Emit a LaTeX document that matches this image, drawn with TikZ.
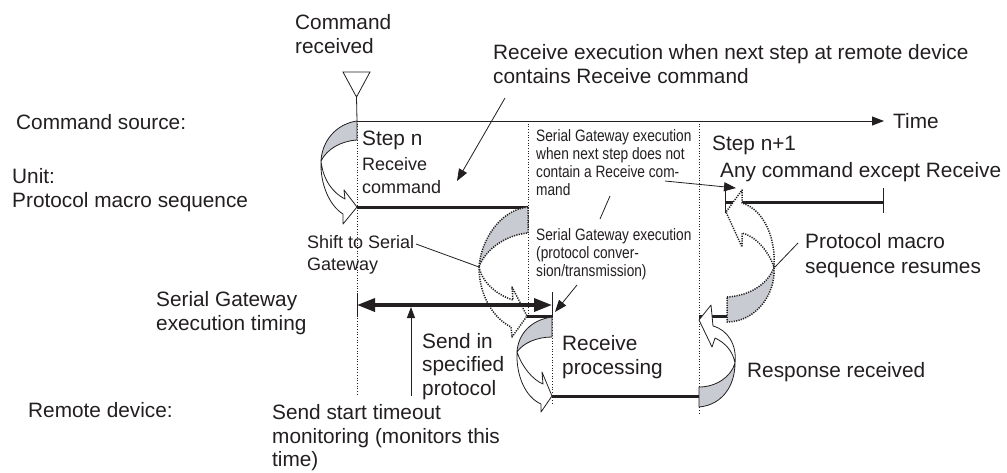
\documentclass[tikz,border=0pt]{standalone}
\usepackage{fontspec}
\setmainfont{Liberation Sans}
\newfontfamily\narrowfont{Liberation Sans}[FakeStretch=0.83]
\usetikzlibrary{arrows.meta}
\definecolor{ink}{RGB}{35,31,32}
\definecolor{band}{RGB}{200,203,210}
\tikzset{
  lbl/.style={anchor=base west, inner sep=0pt, text=ink, font=\fontsize{20.8}{24}\selectfont},
  medtext/.style={lbl, font=\fontsize{18}{22}\selectfont},
  smalltext/.style={lbl, font=\narrowfont\fontsize{16.5}{18}\selectfont},
  thickbar/.style={line width=3pt, draw=ink},
  hair/.style={line width=0.8pt, draw=ink},
  guide/.style={dotted, line width=0.7pt, draw=ink},
  solidband/.style={draw=ink, line width=0.8pt, line join=round},
  dotband/.style={draw=ink, line width=1.5pt, dash pattern=on 1.2pt off 1.2pt, line join=round},
  tip/.style={-{Triangle[length=12pt,width=9pt]}},
}
\begin{document}
\begin{tikzpicture}[x=1pt,y=-1pt]
\useasboundingbox[fill=white] (0,0) rectangle (1007,472);

% ---------- coordinates ----------
\coordinate (trA) at (343,72);
\coordinate (trB) at (370,72);
\coordinate (trC) at (356.5,97);
\coordinate (t0) at (357,121);
\coordinate (tEnd) at (884,121);
\coordinate (gA1) at (357,396);
\coordinate (gB0) at (528,121);
\coordinate (gB1) at (528,317);
\coordinate (gC0) at (552,292);
\coordinate (gC1) at (552,403);
\coordinate (gD0) at (699,121);
\coordinate (gD1) at (699,415);

% ---------- labels ----------
\node[lbl] (cmd1) at (295,29) {Command};
\node[lbl] (cmd2) at (295,53) {received};
\node[lbl] (rx1) at (493,59) {Receive execution when next step at remote device};
\node[lbl] (rx2) at (493,83) {contains Receive command};
\node[lbl] (src) at (16,129) {Command source:};
\node[lbl] (unit1) at (12,183) {Unit:};
\node[lbl] (unit2) at (12,207) {Protocol macro sequence};
\node[lbl] (sgt1) at (156,306) {Serial Gateway};
\node[lbl] (sgt2) at (156,330) {execution timing};
\node[lbl] (remote) at (28,417) {Remote device:};
\node[lbl] (stepn) at (362,145) {Step n};
\node[medtext] (rc1) at (362,170) {Receive};
\node[medtext] (rc2) at (362,193) {command};
\node[smalltext] (s11) at (536,141) {Serial Gateway execution};
\node[smalltext] (s12) at (536,159) {when next step does not};
\node[smalltext] (s13) at (536,177) {contain a Receive com-};
\node[smalltext] (s14) at (536,195) {mand};
\node[smalltext] (s21) at (536,240) {Serial Gateway execution};
\node[smalltext] (s22) at (536,258) {(protocol conver-};
\node[smalltext] (s23) at (536,276) {sion/transmission)};
\node[lbl] (stepn1) at (712,150) {Step n+1};
\node[lbl] (any) at (720,177) {Any command except Receive};
\node[lbl] (time) at (893,128) {Time};
\node[medtext] (shift1) at (307,248) {Shift to Serial};
\node[medtext] (shift2) at (307,270) {Gateway};
\node[lbl] (pm1) at (805,248) {Protocol macro};
\node[lbl] (pm2) at (805,273) {sequence resumes};
\node[lbl] (resp) at (747,377) {Response received};
\node[lbl] (rp1) at (562,350) {Receive};
\node[lbl] (rp2) at (562,374) {processing};
\node[lbl] (sp1) at (422,348) {Send in};
\node[lbl] (sp2) at (422,371) {specified};
\node[lbl] (sp3) at (422,395) {protocol};
\node[lbl] (to1) at (272,419) {Send start timeout};
\node[lbl] (to2) at (272,443) {monitoring (monitors this};
\node[lbl] (to3) at (272,466) {time)};

% ---------- guides ----------
\draw[guide] (t0) -- (gA1);
\draw[guide] (gB0) -- (gB1);
\draw[guide] (gC0) -- (gC1);
\draw[guide] (gD0) -- (gD1);

% ---------- command marker and time axis ----------
\draw[hair, line join=miter] (trA) -- (trB) -- (trC) -- cycle;
\draw[hair] (trC) -- (t0);
\draw[hair, -{Triangle[length=12pt,width=9pt]}] (t0) -- (tEnd);

% ---------- bars ----------
\coordinate (b1a) at (357,207); \coordinate (b1b) at (528,207);
\coordinate (b2a) at (725,202); \coordinate (b2b) at (883,202);
\coordinate (b3a) at (527,316); \coordinate (b3b) at (552,316);
\coordinate (b4a) at (552,396); \coordinate (b4b) at (699,396);
\coordinate (b5a) at (699,316); \coordinate (b5b) at (727,316);
\draw[thickbar] (b1a) -- (b1b);
\draw[thickbar] (b2a) -- (b2b);
\draw[thickbar] (b3a) -- (b3b);
\draw[thickbar] (b4a) -- (b4b);
\draw[thickbar] (b5a) -- (b5b);

% ticks
\draw[hair] (357,293) -- (357,317);
\draw[hair] (552,292) -- (552,318);
\draw[hair] (725,188) -- (725,213);
\draw[hair] (883,188) -- (883,213);

% ---------- ribbon arrows ----------
% A: command source -> unit
\filldraw[solidband, fill=band] (357,121) .. controls (336,124) and (322,141) .. (321,161)
  .. controls (327,149) and (341,141) .. (357,140) -- cycle;
\filldraw[solidband, fill=white] (321,161) .. controls (320,185) and (330,206) .. (343,214)
  -- (343,224) -- (357,207) -- (344,190) -- (345,199)
  .. controls (333,193) and (323,180) .. (321,161) -- cycle;

% B: shift to serial gateway (dotted)
\filldraw[dotband, fill=band] (528,207) .. controls (500,210) and (481,240) .. (479,267)
  .. controls (485,250) and (505,235) .. (528,233) -- cycle;
\filldraw[dotband, fill=white] (479,267) .. controls (483,285) and (500,296) .. (513,300)
  -- (512,287) -- (527,316) -- (512,337) -- (511,327)
  .. controls (493,318) and (479,295) .. (479,267) -- cycle;

% C: to remote device (receive processing)
\filldraw[solidband, fill=band] (552,317) .. controls (530,320) and (518,335) .. (517,352)
  .. controls (523,343) and (537,337) .. (552,337) -- cycle;
\filldraw[solidband, fill=white] (517,352) .. controls (522,367) and (533,380) .. (543,384)
  -- (542,372) -- (552,396) -- (541,412) -- (541,404)
  .. controls (525,397) and (516,375) .. (517,352) -- cycle;

% D: response received
\filldraw[solidband, fill=band] (699,407) .. controls (722,405) and (735,386) .. (735,363)
  .. controls (731,377) and (716,387) .. (699,387) -- cycle;
\filldraw[solidband, fill=white] (735,363) .. controls (737,345) and (728,330) .. (713,326)
  -- (711,305) -- (699,320) -- (712,347) -- (715,338)
  .. controls (726,343) and (733,352) .. (735,363) -- cycle;

% E: protocol macro sequence resumes (dotted)
\filldraw[dotband, fill=band] (727,297) .. controls (748,296) and (768,285) .. (774,267)
  .. controls (776,295) and (755,322) .. (727,322) -- cycle;
\filldraw[dotband, fill=white] (774,267) .. controls (776,240) and (765,210) .. (742,203)
  -- (742,190) -- (726,212) -- (742,247) -- (742,233)
  .. controls (755,236) and (768,250) .. (774,267) -- cycle;

% ---------- timing arrows ----------
\coordinate (d0) at (357,305); \coordinate (d1) at (552,305);
\draw[line width=3.5pt, draw=ink, {Triangle[length=18pt,width=13pt]}-{Triangle[length=18pt,width=13pt]}] (d0) -- (d1);
\coordinate (up0) at (411,396); \coordinate (up1) at (411,307);
\draw[hair, -{Triangle[length=11pt,width=8pt]}] (up0) -- (up1);

% ---------- pointers ----------
\coordinate (p1a) at (505,98); \coordinate (p1b) at (457,181);
\draw[hair, tip] (p1a) -- (p1b);
\coordinate (p2a) at (665,181); \coordinate (p2b) at (736,188);
\draw[hair, tip] (p2a) -- (p2b);
\coordinate (p3a) at (577,285); \coordinate (p3b) at (555,312);
\draw[hair, tip] (p3a) -- (p3b);
\coordinate (l1a) at (416,244); \coordinate (l1b) at (479,267);
\draw[hair] (l1a) -- (l1b);
\coordinate (l2a) at (798,243); \coordinate (l2b) at (775,267);
\draw[hair] (l2a) -- (l2b);
\coordinate (l3a) at (610,196); \coordinate (l3b) at (600,219);
\draw[hair] (l3a) -- (l3b);
\end{tikzpicture}
\end{document}
